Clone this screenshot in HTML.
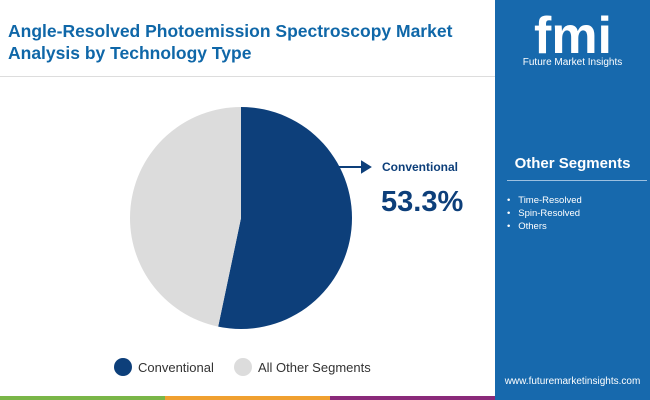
<!DOCTYPE html>
<html><head><meta charset="utf-8"><style>
body{margin:0;width:650px;height:400px;overflow:hidden;background:#fff;font-family:"Liberation Sans",sans-serif;position:relative}
.t{position:absolute;left:8px;top:20px;color:#0f67a8;font-weight:bold;font-size:17.5px;line-height:22px}
.panel{position:absolute;left:495px;top:0;width:155px;height:400px;background:#1769ad}
</style></head><body>
<div class="t">Angle-Resolved Photoemission Spectroscopy Market<br>Analysis by Technology Type</div>
<div style="position:absolute;left:0;top:76px;width:495px;height:1px;background:#ddd"></div>
<div class="panel">
 <div style="position:absolute;left:22px;top:8px;width:112px;height:56px;color:#fff;font-size:52px;font-weight:bold;text-align:center;line-height:56px">fmi</div>
 <div style="position:absolute;left:0;width:155px;top:57px;color:#fff;font-size:10px;text-align:center">Future Market Insights</div>
 <div style="position:absolute;left:0;width:155px;top:155px;color:#fff;font-size:15px;font-weight:bold;text-align:center">Other Segments</div>
 <div style="position:absolute;left:12px;top:180px;width:140px;height:1px;background:#9cc0e0"></div>
 <div style="position:absolute;left:12px;top:194px;color:#fff;font-size:9.5px;line-height:13px">•&nbsp;&nbsp;&nbsp;Time-Resolved<br>•&nbsp;&nbsp;&nbsp;Spin-Resolved<br>•&nbsp;&nbsp;&nbsp;Others</div>
 <div style="position:absolute;left:0;width:155px;top:376px;color:#fff;font-size:10px;text-align:center">www.futuremarketinsights.com</div>
</div>
<div style="position:absolute;left:0;top:396px;width:165px;height:4px;background:#7ab648"></div>
<div style="position:absolute;left:165px;top:396px;width:165px;height:4px;background:#f0a030"></div>
<div style="position:absolute;left:330px;top:396px;width:165px;height:4px;background:#8a2a7a"></div>
<svg id="c" width="495" height="396" style="position:absolute;left:0;top:0"></svg>
<script>
const labels=["Conventional","All Other Segments"];
const values=[53.3,46.7];
const colors=["#0d3f7a","#dcdcdc"];
const svg=document.getElementById('c');const NS="http://www.w3.org/2000/svg";
const cx=241,cy=218,r=111;
const total=values.reduce((a,b)=>a+b,0);
let a0=0;
values.forEach((v,i)=>{
 const a1=a0+v/total*2*Math.PI;
 const p=document.createElementNS(NS,'path');
 const x0=cx+r*Math.sin(a0),y0=cy-r*Math.cos(a0),x1=cx+r*Math.sin(a1),y1=cy-r*Math.cos(a1);
 p.setAttribute('d',`M${cx},${cy}L${x0},${y0}A${r},${r} 0 ${a1-a0>Math.PI?1:0} 1 ${x1},${y1}Z`);
 p.setAttribute('fill',colors[i]);
 
 
 svg.appendChild(p);a0=a1;
});
function add(tag,attrs,txt){const e=document.createElementNS(NS,tag);for(const k in attrs)e.setAttribute(k,attrs[k]);if(txt)e.textContent=txt;svg.appendChild(e);return e;}
const ar=add('path',{d:'M337,167H368M362,162L370,167L362,172Z',stroke:'#0d3f7a','stroke-width':2,fill:'#0d3f7a'});


const cl=add('text',{x:382,y:171,'font-size':12,'font-weight':'bold',fill:'#0d3f7a','font-family':'Liberation Sans'},labels[0]);


const cv=add('text',{x:381,y:211,'font-size':29,'font-weight':'bold',fill:'#0d3f7a','font-family':'Liberation Sans'},values[0].toFixed(1)+'%');


const lx=[123,243];
labels.forEach((l,i)=>{
 const c=add('circle',{cx:lx[i],cy:367,r:9,fill:colors[i]});
 
 
 const t=add('text',{x:lx[i]+15,y:372,'font-size':13,fill:'#333','font-family':'Liberation Sans'},l);
 
 
});
</script>
</body></html>
